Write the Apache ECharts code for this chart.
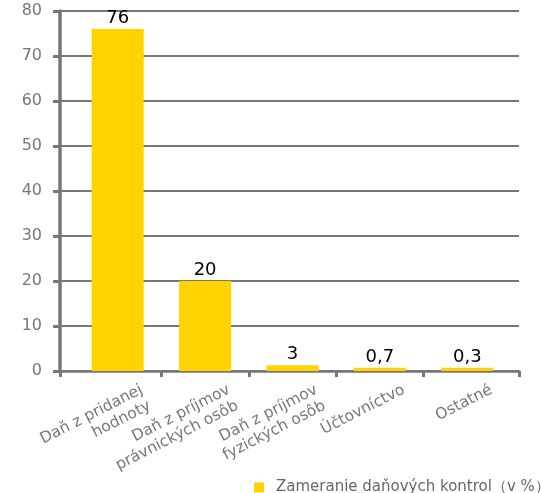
<!DOCTYPE html>
<html>
<head>
<meta charset="utf-8">
<script src="https://cdn.jsdelivr.net/npm/echarts@6/dist/echarts.min.js"></script>
<style>html,body{margin:0;padding:0;background:#fff}#c{width:541px;height:493px}</style>
</head>
<body>
<div id="c"></div>
<script>
const categories = ['Daň z pridanej\nhodnoty', 'Daň z príjmov\nprávnických osôb', 'Daň z príjmov\nfyzických osôb', 'Účtovníctvo', 'Ostatné'];
const barValues = [76, 20, 1.3, 0.7, 0.7];
const valueLabels = ['76', '20', '3', '0,7', '0,3'];
const yTicks = [0, 10, 20, 30, 40, 50, 60, 70, 80];
const seriesName = 'Zameranie daňových kontrol（v %）';

const GRAY = '#777777';
const FONT = 'DejaVu Sans';
const chart = echarts.init(document.getElementById('c'), null, {renderer: 'canvas'});
const bandMin = -0.165, bandMax = 5.097;
chart.setOption({
  animation: false,
  textStyle: {fontFamily: FONT},
  grid: [
    {left: 74, right: 30, top: 11, bottom: 122},
    {left: 60, right: 22, top: 11, bottom: 122},
    {left: 94, right: 10, top: 11, bottom: 122}
  ],
  xAxis: [
    {gridIndex: 0, type: 'category', data: categories, axisLine: {show: false}, axisTick: {show: false}, axisLabel: {show: false}},
    {gridIndex: 1, type: 'value', min: bandMin, max: bandMax, splitLine: {show: false},
      axisLine: {show: true, onZero: false, lineStyle: {color: GRAY, width: 2.5}},
      axisTick: {show: true, length: 6, customValues: [bandMin, 1, 2, 3, 4, bandMax], lineStyle: {color: GRAY, width: 3}},
      axisLabel: {show: false}},
    {gridIndex: 2, type: 'category', data: categories, axisLine: {show: false}, axisTick: {show: false},
      axisLabel: {interval: 0, rotate: 27, align: 'right', verticalAlign: 'top', margin: 10, color: GRAY, fontSize: 15.5, fontFamily: FONT, lineHeight: 18}}
  ],
  yAxis: [
    {gridIndex: 0, type: 'value', min: 0, max: 80, interval: 10, show: false},
    {gridIndex: 1, type: 'value', min: 0, max: 80, interval: 10,
      axisLine: {show: true, onZero: false, lineStyle: {color: GRAY, width: 3.5}},
      axisTick: {show: true, length: 7, lineStyle: {color: GRAY, width: 3}},
      axisLabel: {color: GRAY, fontSize: 16, fontFamily: FONT, margin: 18,
        formatter: v => (yTicks.indexOf(v) >= 0 ? String(v) : '')},
      splitLine: {show: true, lineStyle: {color: GRAY, width: 2}}},
    {gridIndex: 2, type: 'value', min: 0, max: 80, interval: 10, show: false}
  ],
  legend: {
    left: 249, top: 475, itemWidth: 10, itemHeight: 10, icon: 'rect',
    textStyle: {color: '#666666', fontSize: 15, fontFamily: FONT, padding: [0, 0, 0, 7]},
    data: [seriesName]
  },
  series: [{
    name: seriesName, type: 'bar', xAxisIndex: 0, yAxisIndex: 0,
    data: barValues, barWidth: 52, z: 1,
    itemStyle: {color: '#FFD200'},
    label: {show: true, position: 'top', distance: 2, color: '#000', fontSize: 18, fontFamily: FONT,
      formatter: p => valueLabels[p.dataIndex]}
  }]
});
</script>
</body>
</html>
